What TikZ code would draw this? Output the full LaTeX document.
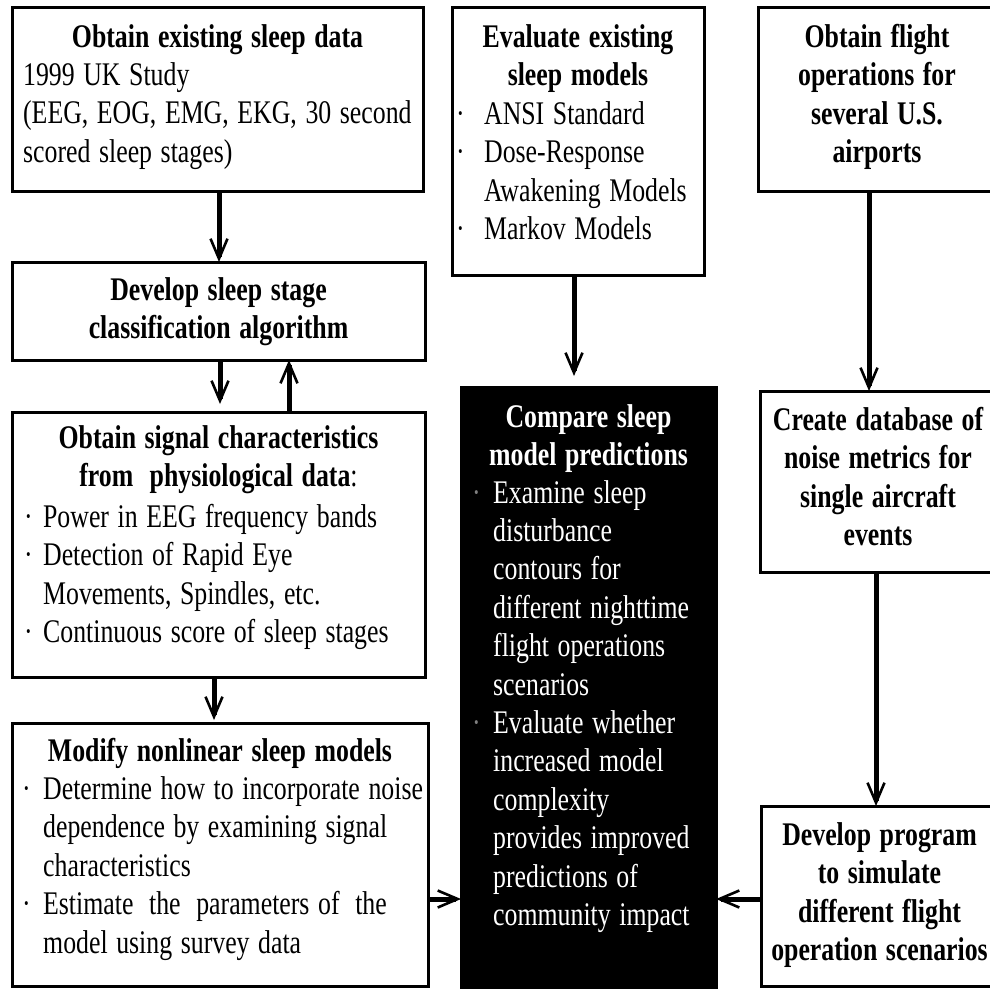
\documentclass[tikz,border=0pt]{standalone}
\usepackage{fontspec}
\setmainfont{Liberation Serif}
\usetikzlibrary{arrows.meta,calc}
\newcommand\mybul[1]{\makebox[#1][l]{·}}
\begin{document}
\begin{tikzpicture}[x=1pt,y=-1pt,
  box/.style={draw=black, line width=3pt, fill=white, inner sep=0pt, outer sep=0pt, rectangle, anchor=north west},
  darkbox/.style={box, fill=black},
  ttl/.style={font=\fontsize{33}{38.6}\selectfont\bfseries, align=center, inner sep=0pt, anchor=base, xscale=0.782},
  bodytxt/.style={font=\fontsize{33}{38.6}\selectfont, align=left, inner sep=0pt, anchor=base west, xscale=0.782, text width=580pt},
  arr/.style={line width=5pt, -{Straight Barb[length=20pt,width=17pt,line width=2.6pt]}},
]
\useasboundingbox (0,0) rectangle (990,988);
\clip (0,0) rectangle (990,988);

% boxes
\node[box, minimum width=411pt, minimum height=184pt] (b1) at (12,7) {};
\node[box, minimum width=413pt, minimum height=98pt] (b2) at (12,262) {};
\node[box, minimum width=413pt, minimum height=265pt] (b3) at (12,412) {};
\node[box, minimum width=416pt, minimum height=263pt] (b4) at (12,723) {};
\node[box, minimum width=252pt, minimum height=268pt] (ev) at (452,7) {};
\node[box, minimum width=240pt, minimum height=184pt] (fl) at (758,7) {};
\node[darkbox, minimum width=255pt, minimum height=610pt] (bk) at (461,387) {};
\node[box, minimum width=238pt, minimum height=181pt] (cr) at (760,391) {};
\node[box, minimum width=237pt, minimum height=180pt] (dv) at (761,806) {};

% texts
\node[ttl, text width=580pt] (t1) at (217.5,47) {Obtain existing sleep data};
\node[bodytxt] (x1) at (23,85) {1999 UK Study\\(EEG, EOG, EMG, EKG, 30 second\\scored sleep stages)};

\node[ttl, text width=580pt] (t2) at (218.5,300) {Develop sleep stage\\classification algorithm};

\node[ttl, text width=580pt] (t3) at (218.5,448) {Obtain signal characteristics\\from\hspace{10pt} physiological data\textmd{:}};
\node[bodytxt] (x3) at (24,527) {\mybul{24.3pt}Power in EEG frequency bands\\\mybul{24.3pt}Detection of Rapid Eye\\\hspace*{24.3pt}Movements, Spindles, etc.\\\mybul{24.3pt}Continuous score of sleep stages};

\node[ttl, text width=580pt] (t4) at (220,761) {Modify nonlinear sleep models};
\node[bodytxt] (x4) at (22,799) {\mybul{26.9pt}Determine how to incorporate noise\\\hspace*{26.9pt}dependence by examining signal\\\hspace*{26.9pt}characteristics\\\mybul{26.9pt}Estimate\hspace{9pt} the\hspace{9pt} parameters of\hspace{9pt} the\\\hspace*{26.9pt}model using survey data};

\node[ttl, text width=360pt] (t5) at (578,47) {Evaluate existing\\sleep models};
\node[bodytxt] (x5) at (456,124) {\mybul{35.8pt}ANSI Standard\\\mybul{35.8pt}Dose-Response\\\hspace*{35.8pt}Awakening Models\\\mybul{35.8pt}Markov Models};

\node[ttl, text width=360pt] (t6) at (877,47) {Obtain flight\\operations for\\several U.S.\\airports};

\node[ttl, text width=360pt, text=white] (t7) at (588.5,427) {Compare sleep\\model predictions};
\node[bodytxt, text=white, font=\fontsize{33}{38.4}\selectfont] (x7) at (472,503) {\textcolor{gray}{\mybul{26.9pt}}Examine sleep\\\hspace*{26.9pt}disturbance\\\hspace*{26.9pt}contours for\\\hspace*{26.9pt}different nighttime\\\hspace*{26.9pt}flight operations\\\hspace*{26.9pt}scenarios\\\textcolor{gray}{\mybul{26.9pt}}Evaluate whether\\\hspace*{26.9pt}increased model\\\hspace*{26.9pt}complexity\\\hspace*{26.9pt}provides improved\\\hspace*{26.9pt}predictions of\\\hspace*{26.9pt}community impact};

\node[ttl, text width=360pt] (t8) at (878,430) {Create database of\\noise metrics for\\single aircraft\\events};
\node[ttl, text width=360pt] (t9) at (879.5,845) {Develop program\\to simulate\\different flight\\operation scenarios};

% connectors
\coordinate (hy) at (0,899);
\draw[arr] ([xshift=1.5pt]b1.south) -- ([xshift=1.5pt]b1.south |- b2.north);
\draw[arr, shorten >=8pt] ([xshift=1.5pt]b2.south) -- ([xshift=1.5pt]b2.south |- b3.north);
\draw[arr] ([xshift=70.5pt]b3.north) -- ([xshift=70.5pt]b3.north |- b2.south);
\draw[arr, shorten >=3pt] ([xshift=-4.5pt]b3.south) -- ([xshift=-4.5pt]b3.south |- b4.north);
\draw[arr, shorten >=11pt] ([xshift=-4pt]ev.south) -- ([xshift=-4pt]ev.south |- bk.north);
\draw[arr] ([xshift=-9pt]fl.south) -- ([xshift=-9pt]fl.south |- cr.north);
\draw[arr] ([xshift=-3pt]cr.south) -- ([xshift=-3pt]cr.south |- dv.north);
\draw[arr] (b4.east |- hy) -- (bk.west |- hy);
\draw[arr] (dv.west |- hy) -- (bk.east |- hy);
\end{tikzpicture}
\end{document}
